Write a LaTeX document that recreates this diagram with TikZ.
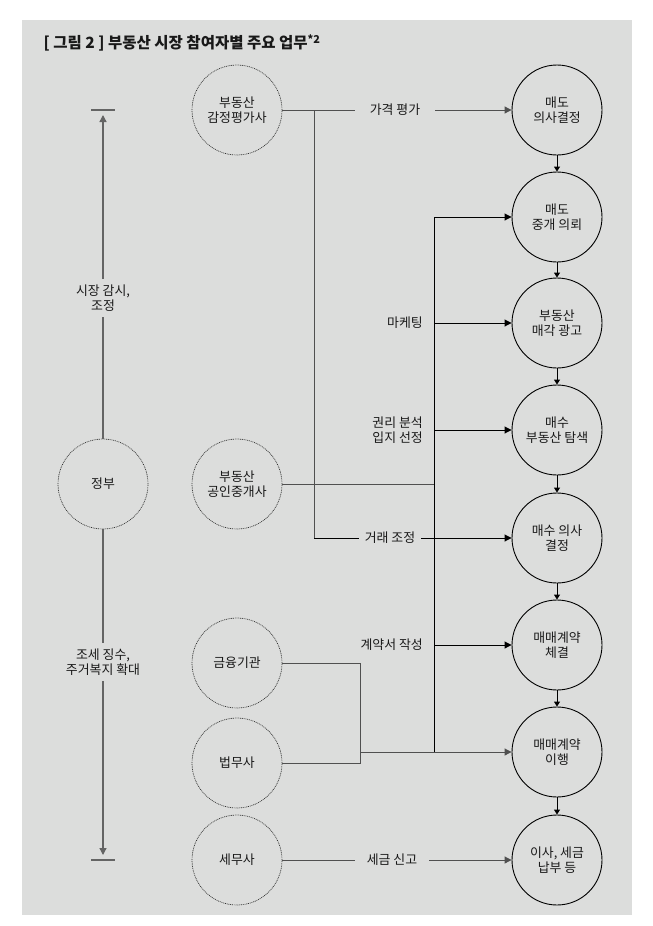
\documentclass[tikz,border=0pt]{standalone}
\usepackage{fontspec}
\setmainfont{Noto Sans CJK KR}
\usetikzlibrary{arrows.meta}
\definecolor{bg}{RGB}{220,221,220}
\definecolor{ln}{RGB}{80,80,80}
\definecolor{gl}{RGB}{100,100,100}
\definecolor{txt}{RGB}{25,25,25}
\begin{document}
\begin{tikzpicture}[x=1pt,y=-1pt,
  every node/.style={font=\fontsize{12.9}{15.5}\selectfont, text=txt},
  stage/.style={circle, draw=black, line width=0.9pt, minimum size=90pt, inner sep=0pt, align=center},
  actor/.style={circle, draw=black!80, dash pattern=on 0.9pt off 0.9pt, line width=0.7pt, minimum size=90pt, inner sep=0pt, align=center},
  conn/.style={draw=ln, line width=1pt},
  trunk/.style={draw=black, line width=0.9pt},
  gline/.style={draw=gl, line width=1.3pt},
  arr/.style={-{Triangle[length=7pt,width=7pt]}},
  sarr/.style={-{Triangle[length=5pt,width=6pt]}},
  lab/.style={inner sep=0pt, align=center},
]
\useasboundingbox (0,0) rectangle (653,926);
\fill[bg] (22,20) rectangle (632,915);

\node[anchor=west, font=\fontsize{15.5}{18}\selectfont\bfseries] (title) at (40,43) {[ 그림 2 ] 부동산 시장 참여자별 주요 업무\textsuperscript{*2}};

% stages
\node[stage] (s1) at (557,110) {매도\\의사결정};
\node[stage] (s2) at (557,217) {매도\\중개 의뢰};
\node[stage] (s3) at (557,323) {부동산\\매각 광고};
\node[stage] (s4) at (557,430) {매수\\부동산 탐색};
\node[stage] (s5) at (557,538) {매수 의사\\결정};
\node[stage] (s6) at (557,645) {매매계약\\체결};
\node[stage] (s7) at (557,752) {매매계약\\이행};
\node[stage] (s8) at (557,860) {이사, 세금\\납부 등};

\foreach \a/\b in {s1/s2,s2/s3,s3/s4,s4/s5,s5/s6,s6/s7,s7/s8}
  \draw[trunk, sarr] (\a) -- (\b);

% actors
\node[actor] (ga) at (237,110) {부동산\\감정평가사};
\node[actor] (ba) at (237,484) {부동산\\공인중개사};
\node[actor] (fi) at (237,663) {금융기관};
\node[actor] (la) at (237,763) {법무사};
\node[actor] (tx) at (237,860) {세무사};
\node[actor] (gov) at (103,484) {정부};

% labels
\node[lab, inner xsep=15pt] (l1) at (395,110) {가격 평가};
\node[lab, anchor=east] (l2) at (423,323) {마케팅};
\node[lab, anchor=east, align=right] (l3) at (423,430) {권리 분석\\입지 선정};
\node[lab, inner xsep=6pt] (l4) at (390,538) {거래 조정};
\node[lab, anchor=east] (l5) at (423,645) {계약서 작성};
\node[lab, inner xsep=12pt] (l6) at (392,860) {세금 신고};
\node[lab, inner ysep=5pt] (g1) at (103,298) {시장 감시,\\조정};
\node[lab, inner ysep=5pt] (g2) at (103,662) {조세 징수,\\주거복지 확대};

% coordinates
\coordinate (j1) at (314,110);
\coordinate (j2) at (314,538);
\coordinate (t1) at (434,217);
\coordinate (t2) at (434,323);
\coordinate (t3) at (434,430);
\coordinate (t4) at (434,484);
\coordinate (t5) at (434,645);
\coordinate (t6) at (434,752);
\coordinate (m1) at (360,663);
\coordinate (m2) at (360,763);
\coordinate (m3) at (360,752);
\coordinate (gta) at (103,115);
\coordinate (gtl) at (91,110);
\coordinate (gtr) at (115,110);
\coordinate (gba) at (103,855);
\coordinate (gbl) at (91,860);
\coordinate (gbr) at (115,860);

% connectors
\draw[conn] (ga) -- (l1);
\draw[conn, arr] (l1) -- (s1);
\draw[conn] (j1) -- (j2);
\draw[trunk] (j2) -- (l4);
\draw[trunk, arr] (l4) -- (s5);
\draw[trunk, arr] (t6) -- (t1) -- (s2);
\draw[trunk, arr] (t2) -- (s3);
\draw[trunk, arr] (t3) -- (s4);
\draw[trunk, arr] (t5) -- (s6);
\draw[conn] (ba) -- (t4);
\draw[conn] (fi) -- (m1) -- (m2) -- (la);
\draw[conn, arr] (m3) -- (s7);
\draw[conn] (tx) -- (l6);
\draw[conn, arr] (l6) -- (s8);

% government
\draw[gline] (gov) -- (g1);
\draw[gline, arr] (g1) -- (gta);
\draw[gline] (gtl) -- (gtr);
\draw[gline] (gov) -- (g2);
\draw[gline, arr] (g2) -- (gba);
\draw[gline] (gbl) -- (gbr);
\end{tikzpicture}
\end{document}
